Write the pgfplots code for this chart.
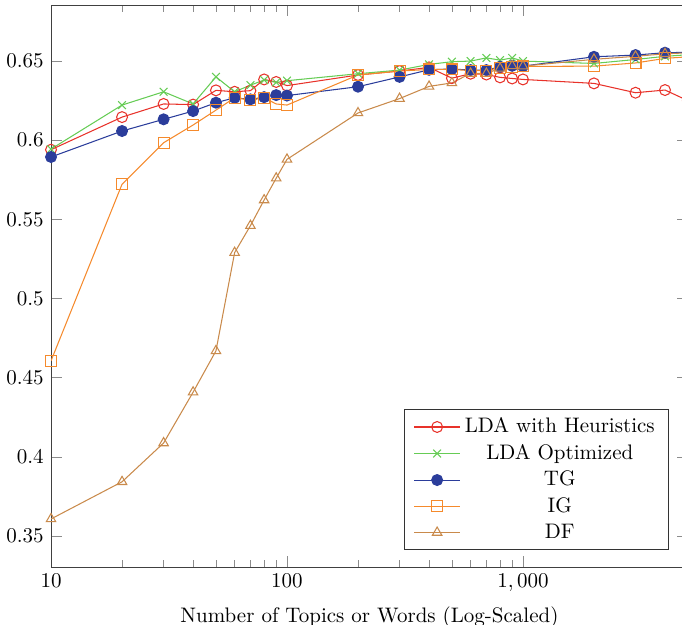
\documentclass[border=0pt]{standalone}
\usepackage{pgfplots}
\pgfplotsset{compat=1.18}
\usepackage{pgfplotstable}
\definecolor{cred}{RGB}{232,50,42}
\definecolor{cgreen}{RGB}{102,204,85}
\definecolor{cblue}{RGB}{43,61,155}
\definecolor{corange}{RGB}{245,138,44}
\definecolor{cbrown}{RGB}{201,138,75}

\pgfplotstableread{
x y
10 0.594
20 0.6146
30 0.6229
40 0.6225
50 0.6315
60 0.6306
70 0.6313
80 0.6384
90 0.6368
100 0.6345
200 0.6412
300 0.6437
400 0.6460
500 0.6392
600 0.6420
700 0.6415
800 0.6397
900 0.6390
1000 0.6384
2000 0.6359
3000 0.6300
4000 0.6317
5000 0.6250
}\heur

\pgfplotstableread{
x y
10 0.5944
20 0.6222
30 0.6306
40 0.6229
50 0.6400
60 0.6306
70 0.6348
80 0.6380
90 0.6365
100 0.6376
200 0.6420
300 0.6443
400 0.6479
500 0.6496
600 0.6500
700 0.6520
800 0.6506
900 0.6520
1000 0.6500
2000 0.6485
3000 0.6510
4000 0.6530
5000 0.6540
}\opt

\pgfplotstableread{
x y
10 0.5894
20 0.6058
30 0.6132
40 0.6184
50 0.6237
60 0.6268
70 0.6258
80 0.6272
90 0.6285
100 0.6282
200 0.6338
300 0.6400
400 0.6445
500 0.6450
600 0.6443
700 0.6443
800 0.6464
900 0.6470
1000 0.6468
2000 0.6527
3000 0.6538
4000 0.6553
5000 0.6555
}\tg

\pgfplotstableread{
x y
10 0.4606
20 0.5722
30 0.5984
40 0.6096
50 0.6190
60 0.6268
70 0.6254
80 0.6268
90 0.6229
100 0.6222
200 0.6412
300 0.6437
400 0.6447
500 0.6447
600 0.6440
700 0.6440
800 0.6458
900 0.6464
1000 0.6466
2000 0.6468
3000 0.6488
4000 0.6517
5000 0.6527
}\ig

\pgfplotstableread{
x y
10 0.3607
20 0.3842
30 0.4087
40 0.4408
50 0.4669
60 0.5290
70 0.5460
80 0.5622
90 0.5760
100 0.5879
200 0.6172
300 0.6263
400 0.6340
500 0.6362
600 0.6422
700 0.6422
800 0.6454
900 0.6470
1000 0.6468
2000 0.6511
3000 0.6530
4000 0.6546
5000 0.6552
}\df

\begin{document}
\begin{tikzpicture}
\begin{axis}[
  scale only axis,
  width=303.3pt, height=267.6pt,
  xmode=log,
  xmin=10, xmax=5000,
  ymin=0.3304, ymax=0.6854,
  log ticks with fixed point,
  /pgf/number format/1000 sep={,},
  ytick={0.35,0.4,0.45,0.5,0.55,0.6,0.65},
  xtick={10,100,1000},
  xlabel={Number of Topics or Words (Log-Scaled)},
  axis line style={black!75},
  tick style={black!45},
  major tick length=5.2pt,
  minor tick length=3.1pt,
  every axis plot/.append style={line width=0.5pt, mark size=2.6pt},
  legend cell align=center,
  legend style={at={(0.97,0.03)}, anchor=south east, draw=black!80,
    cells={anchor=center}, inner xsep=4.5pt},
  legend image code/.code={\draw[mark repeat=2,mark phase=2,#1] plot coordinates {(0cm,0cm) (0.385cm,0cm) (0.77cm,0cm)};},
]
\addplot[color=cred, mark=o] table {\heur};
\addlegendentry{LDA with Heuristics}
\addplot[color=cgreen, mark=x] table {\opt};
\addlegendentry{LDA Optimized}
\addplot[color=cblue, mark=*, mark options={fill=cblue}] table {\tg};
\addlegendentry{TG}
\addplot[color=corange, mark=square] table {\ig};
\addlegendentry{IG}
\addplot[color=cbrown, mark=triangle] table {\df};
\addlegendentry{DF}
\end{axis}
\pgfresetboundingbox
\path[use as bounding box] ([xshift=-24.3pt,yshift=-27.6pt]current axis.south west) rectangle ([xshift=300.5pt,yshift=2.4pt]current axis.north west);
\end{tikzpicture}
\end{document}
